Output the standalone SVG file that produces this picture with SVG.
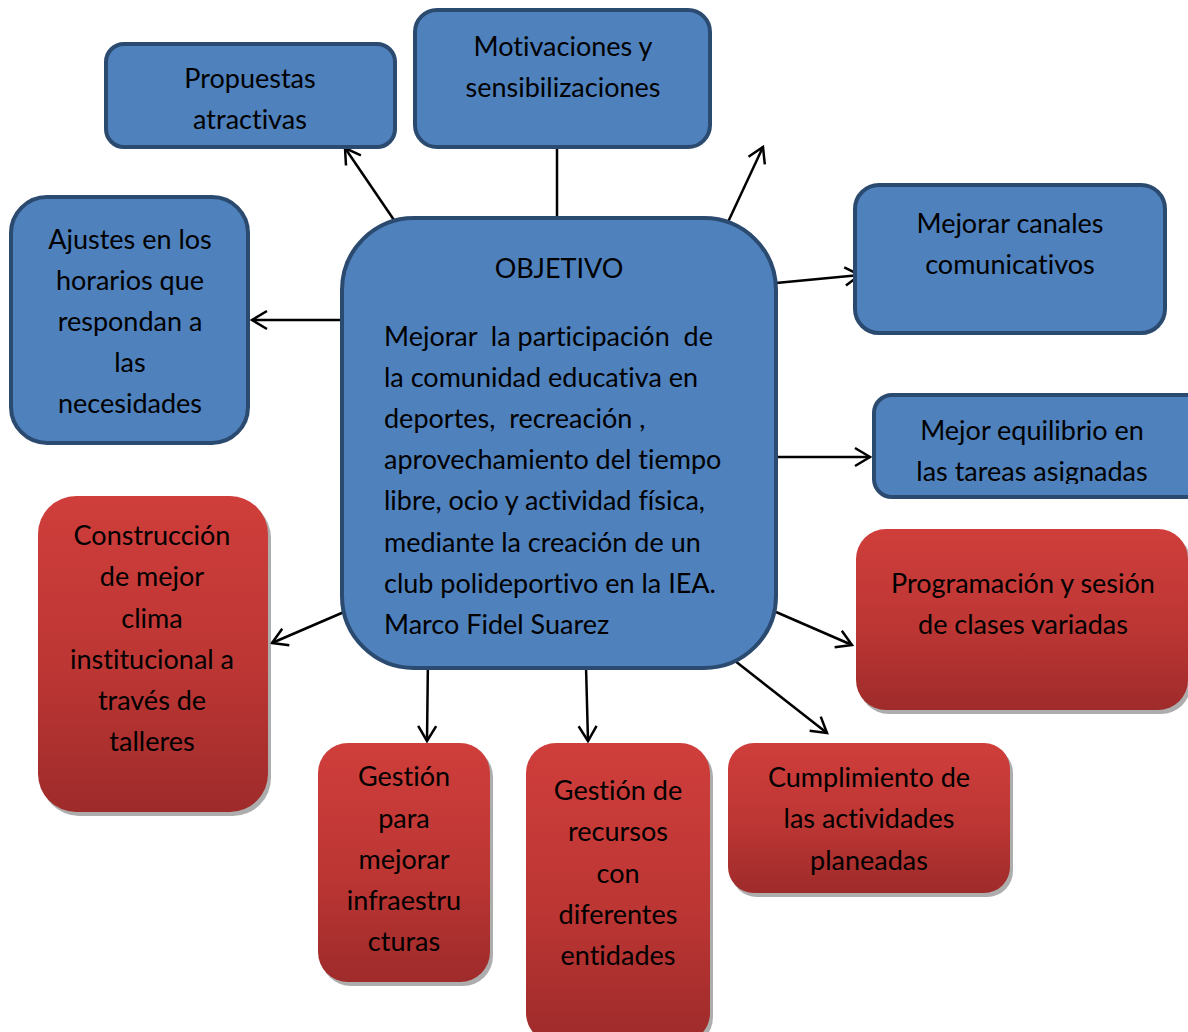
<svg xmlns="http://www.w3.org/2000/svg" width="1188" height="1032" viewBox="0 0 1188 1032">
<style>
.blue{fill:#4f81bd;stroke:#2b4a70;stroke-width:4}
.red{fill:url(#rg)}
.sh{fill:#8a8a8a;opacity:0.7}
text{font-family:Lato,"Liberation Sans",sans-serif;font-size:27px;fill:#000;font-variant-ligatures:none;white-space:pre}
.c{text-anchor:middle}
.con line{stroke:#000;stroke-width:2.5;fill:none}
</style>
<defs>
<linearGradient id="rg" x1="0" y1="0" x2="0" y2="1">
<stop offset="0" stop-color="#cf3e3b"/>
<stop offset="0.55" stop-color="#bc3634"/>
<stop offset="1" stop-color="#9e2b2a"/>
</linearGradient>
<marker id="ah" markerUnits="userSpaceOnUse" markerWidth="24" markerHeight="24" refX="19" refY="12" orient="auto" viewBox="0 0 24 24">
<path d="M4,3 L19,12 L4,21" fill="none" stroke="#000" stroke-width="2.5"/>
</marker>
<clipPath id="clipEq"><rect x="874" y="393" width="320" height="91"/></clipPath>
</defs>
<g class="con">
<line x1="394" y1="220" x2="345" y2="148" marker-end="url(#ah)"/>
<line x1="557" y1="147" x2="557" y2="222"/>
<line x1="728" y1="222" x2="763" y2="147" marker-end="url(#ah)"/>
<line x1="776" y1="283" x2="860" y2="275" marker-end="url(#ah)"/>
<line x1="345" y1="320" x2="252" y2="320" marker-end="url(#ah)"/>
<line x1="776" y1="457" x2="870" y2="457" marker-end="url(#ah)"/>
<line x1="344" y1="612" x2="272" y2="643" marker-end="url(#ah)"/>
<line x1="776" y1="612" x2="852" y2="645" marker-end="url(#ah)"/>
<line x1="428" y1="656" x2="427" y2="741" marker-end="url(#ah)"/>
<line x1="586" y1="666" x2="588" y2="741" marker-end="url(#ah)"/>
<line x1="730" y1="657" x2="827" y2="733" marker-end="url(#ah)"/>
</g>
<g id="propuestas">
<rect class="blue" x="106" y="44" width="289" height="103" rx="18"/>
<text class="c" x="250" y="88">Propuestas</text>
<text class="c" x="250" y="129">atractivas</text>
</g>
<g id="motivaciones">
<rect class="blue" x="415" y="10" width="295" height="137" rx="22"/>
<text class="c" x="563" y="56">Motivaciones y</text>
<text class="c" x="563" y="97">sensibilizaciones</text>
</g>
<g id="ajustes">
<rect class="blue" x="11" y="197" width="237" height="246" rx="36"/>
<text class="c" x="130" y="249">Ajustes en los</text>
<text class="c" x="130" y="290">horarios que</text>
<text class="c" x="130" y="331">respondan a</text>
<text class="c" x="130" y="372">las</text>
<text class="c" x="130" y="413">necesidades</text>
</g>
<g id="objetivo">
<rect class="blue" x="342" y="218" width="434" height="450" rx="72"/>
<text class="c" x="559" y="278">OBJETIVO</text>
<text x="384" y="346">Mejorar  la participación  de</text>
<text x="384" y="387">la comunidad educativa en</text>
<text x="384" y="428">deportes,  recreación ,</text>
<text x="384" y="469">aprovechamiento del tiempo</text>
<text x="384" y="510">libre, ocio y actividad física,</text>
<text x="384" y="552">mediante la creación de un</text>
<text x="384" y="593">club polideportivo en la IEA.</text>
<text x="384" y="634">Marco Fidel Suarez</text>
</g>
<g id="canales">
<rect class="blue" x="855" y="185" width="310" height="148" rx="24"/>
<text class="c" x="1010" y="233">Mejorar canales</text>
<text class="c" x="1010" y="274">comunicativos</text>
</g>
<g id="equilibrio">
<rect class="blue" x="874" y="395" width="330" height="102" rx="18"/>
<g clip-path="url(#clipEq)">
<text class="c" x="1032" y="440">Mejor equilibrio en</text>
<text class="c" x="1032" y="481">las tareas asignadas</text>
</g>
</g>
<g id="construccion">
<rect class="sh" x="41" y="500" width="230" height="316" rx="38"/>
<rect class="red" x="38" y="496" width="230" height="316" rx="38"/>
<text class="c" x="152" y="545">Construcción</text>
<text class="c" x="152" y="586">de mejor</text>
<text class="c" x="152" y="628">clima</text>
<text class="c" x="152" y="669">institucional a</text>
<text class="c" x="152" y="710">través de</text>
<text class="c" x="152" y="751">talleres</text>
</g>
<g id="programacion">
<rect class="sh" x="859" y="533" width="332" height="181" rx="30"/>
<rect class="red" x="856" y="529" width="332" height="181" rx="30"/>
<text class="c" x="1023" y="593">Programación y sesión</text>
<text class="c" x="1023" y="634">de clases variadas</text>
</g>
<g id="gestion-infra">
<rect class="sh" x="321" y="747" width="172" height="239" rx="30"/>
<rect class="red" x="318" y="743" width="172" height="239" rx="30"/>
<text class="c" x="404" y="786">Gestión</text>
<text class="c" x="404" y="828">para</text>
<text class="c" x="404" y="869">mejorar</text>
<text class="c" x="404" y="910">infraestru</text>
<text class="c" x="404" y="951">cturas</text>
</g>
<g id="gestion-recursos">
<rect class="sh" x="529" y="747" width="184" height="300" rx="30"/>
<rect class="red" x="526" y="743" width="184" height="300" rx="30"/>
<text class="c" x="618" y="800">Gestión de</text>
<text class="c" x="618" y="841">recursos</text>
<text class="c" x="618" y="883">con</text>
<text class="c" x="618" y="924">diferentes</text>
<text class="c" x="618" y="965">entidades</text>
</g>
<g id="cumplimiento">
<rect class="sh" x="731" y="747" width="282" height="150" rx="26"/>
<rect class="red" x="728" y="743" width="282" height="150" rx="26"/>
<text class="c" x="869" y="787">Cumplimiento de</text>
<text class="c" x="869" y="828">las actividades</text>
<text class="c" x="869" y="870">planeadas</text>
</g>
</svg>
